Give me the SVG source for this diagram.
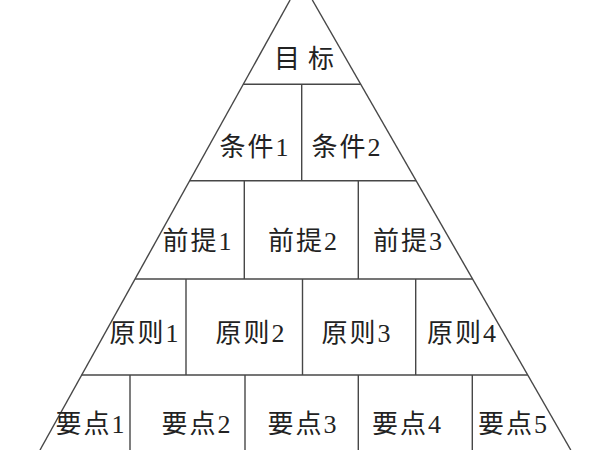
<svg xmlns="http://www.w3.org/2000/svg" width="600" height="450" viewBox="0 0 600 450">
<style>
  .ln { stroke:#474747; stroke-width:1.4; fill:none; }
  .t { font-family:"Liberation Serif","Noto Sans CJK SC",serif; font-size:26px; fill:#222; text-anchor:middle; letter-spacing:2px; }
</style>
<rect width="600" height="450" fill="#fff"/>
<g id="connectors">
  <line class="ln" x1="290.1" y1="0" x2="40" y2="450"/>
  <line class="ln" x1="312.3" y1="0" x2="570.8" y2="450"/>
  <line class="ln" x1="243.3" y1="84.3" x2="360.7" y2="84.3"/>
  <line class="ln" x1="189.7" y1="180.7" x2="416.1" y2="180.7"/>
  <line class="ln" x1="135.1" y1="279" x2="472.6" y2="279"/>
  <line class="ln" x1="81.7" y1="375" x2="527.7" y2="375"/>
  <line class="ln" x1="301.7" y1="84.3" x2="301.7" y2="180.7"/>
  <line class="ln" x1="244.3" y1="180.7" x2="244.3" y2="279"/>
  <line class="ln" x1="358.3" y1="180.7" x2="358.3" y2="279"/>
  <line class="ln" x1="186" y1="279" x2="186" y2="375"/>
  <line class="ln" x1="302.5" y1="279" x2="302.5" y2="375"/>
  <line class="ln" x1="415.7" y1="279" x2="415.7" y2="375"/>
  <line class="ln" x1="130" y1="375" x2="130" y2="450"/>
  <line class="ln" x1="245" y1="375" x2="245" y2="450"/>
  <line class="ln" x1="358.3" y1="375" x2="358.3" y2="450"/>
  <line class="ln" x1="472.3" y1="375" x2="472.3" y2="450"/>
</g>
<g id="n-goal"><text class="t" x="308" y="68" style="letter-spacing:8px">目标</text></g>
<g id="n-cond1"><text class="t" x="255" y="156">条件1</text></g>
<g id="n-cond2"><text class="t" x="347" y="156">条件2</text></g>
<g id="n-pre1"><text class="t" x="198" y="250">前提1</text></g>
<g id="n-pre2"><text class="t" x="303.5" y="250">前提2</text></g>
<g id="n-pre3"><text class="t" x="408.5" y="250">前提3</text></g>
<g id="n-pri1"><text class="t" x="145" y="342">原则1</text></g>
<g id="n-pri2"><text class="t" x="251" y="342">原则2</text></g>
<g id="n-pri3"><text class="t" x="357" y="342">原则3</text></g>
<g id="n-pri4"><text class="t" x="462.5" y="342">原则4</text></g>
<g id="n-key1"><text class="t" x="91" y="433">要点1</text></g>
<g id="n-key2"><text class="t" x="197" y="433">要点2</text></g>
<g id="n-key3"><text class="t" x="303" y="433">要点3</text></g>
<g id="n-key4"><text class="t" x="407.5" y="433">要点4</text></g>
<g id="n-key5"><text class="t" x="513.5" y="433">要点5</text></g>
</svg>
